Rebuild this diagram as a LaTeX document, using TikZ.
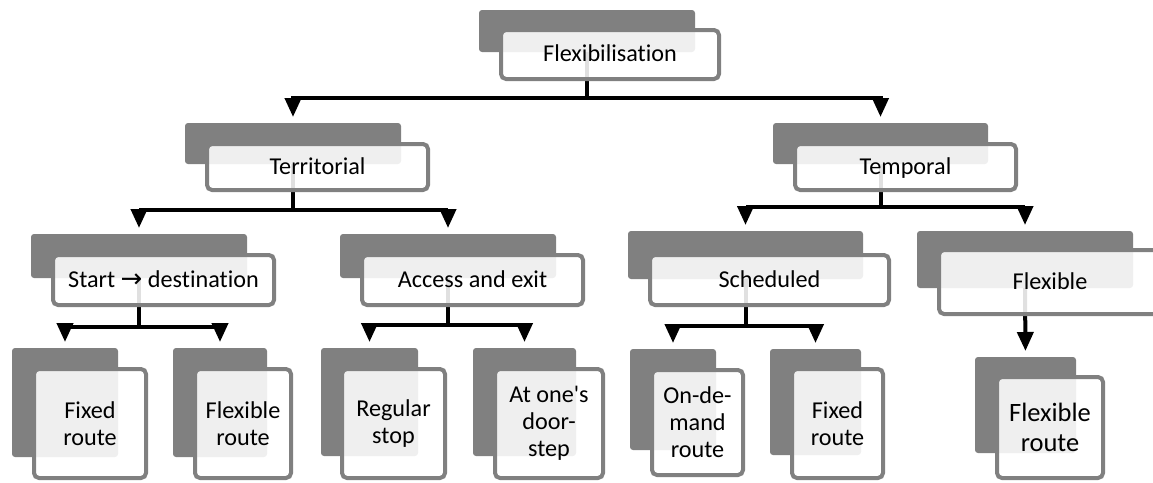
\documentclass[tikz,border=0pt]{standalone}
\usepackage{fontspec}
\setmainfont{Carlito}[Ligatures={NoCommon}]
\newfontfamily\symfont{DejaVu Sans}
\usetikzlibrary{arrows.meta}
\pgfdeclarelayer{background}
\pgfsetlayers{background,main}
\definecolor{boxgray}{HTML}{808080}
\begin{document}
\begin{tikzpicture}[x=1pt,y=-1pt,
  back/.style={fill=boxgray, draw=none, rounded corners=3pt, inner sep=0pt, outer sep=0pt},
  front/.style={draw=boxgray, line width=4pt, fill=white, fill opacity=0.88, text opacity=1,
    rounded corners=5pt, inner sep=0pt, outer sep=0pt, align=center,
    font=\fontsize{24.2}{27}\selectfont},
  single/.style={text height=17pt, text depth=3pt},
  bigfront/.style={front, font=\fontsize{26.5}{29.5}\selectfont},
  conn/.style={line width=4pt, -{Triangle[width=16pt,length=19pt]}, shorten >=6pt}]
\useasboundingbox (0,0) rectangle (1153,482);

% Level 1
\node[back, minimum width=216pt, minimum height=42pt] (flexiB) at (587,31) {};
\node[front, single, minimum width=218pt, minimum height=49pt] (flexi) at (610,54.5) {Flexibilisation};

% Level 2
\node[back, minimum width=216pt, minimum height=41pt] (terrB) at (293,143.5) {};
\node[front, single, minimum width=221pt, minimum height=46pt] (terr) at (317.5,167) {Territorial};
\node[back, minimum width=215pt, minimum height=41pt] (tempB) at (880.5,143.5) {};
\node[front, single, minimum width=221pt, minimum height=46pt] (temp) at (905.5,167) {Temporal};

% Level 3
\node[back, minimum width=216pt, minimum height=44pt] (sdB) at (139,256) {};
\node[front, single, minimum width=221pt, minimum height=50pt] (sd) at (163.5,280) {Start {\symfont\fontsize{26}{26}\selectfont →} destination};
\node[back, minimum width=216pt, minimum height=44pt] (aeB) at (448,256) {};
\node[front, single, minimum width=221pt, minimum height=50pt] (ae) at (472.5,280) {Access and exit};
\node[back, minimum width=235pt, minimum height=48pt] (schB) at (745.5,255) {};
\node[front, single, minimum width=239pt, minimum height=50pt] (sch) at (769.5,280) {Scheduled};
\node[back, minimum width=216pt, minimum height=57pt] (flxB) at (1025,259.5) {};
\node[front, single, minimum width=222pt, minimum height=64pt] (flx) at (1050,282) {Flexible};

% Level 4
\node[back, minimum width=106pt, minimum height=109pt] (frlB) at (65,402.5) {};
\node[front, minimum width=112pt, minimum height=109pt] (frl) at (90,423.5) {Fixed\\route};
\node[back, minimum width=94pt, minimum height=109pt] (xrlB) at (220,402.5) {};
\node[front, minimum width=96pt, minimum height=109pt] (xrl) at (243,423.5) {Flexible\\route};
\node[back, minimum width=97pt, minimum height=108pt] (rsB) at (369.5,402) {};
\node[front, minimum width=103pt, minimum height=109pt] (rs) at (393.5,423.5) {Regular\\stop};
\node[back, minimum width=103pt, minimum height=108pt] (dsB) at (524.5,402) {};
\node[front, minimum width=108pt, minimum height=109pt] (ds) at (549,423.5) {At one\textquotesingle s\\door-\\step};
\node[back, minimum width=86pt, minimum height=101pt] (odB) at (673,399.5) {};
\node[front, minimum width=91pt, minimum height=105pt] (od) at (697.5,422.5) {On-de-\\mand\\route};
\node[back, minimum width=91pt, minimum height=106pt] (frrB) at (815.5,402) {};
\node[front, minimum width=91pt, minimum height=109pt] (frr) at (837.5,423.5) {Fixed\\route};
\node[back, minimum width=101pt, minimum height=96pt] (xrrB) at (1025.5,405) {};
\node[bigfront, minimum width=106pt, minimum height=101pt] (xrr) at (1050,427.5) {Flexible\\route};

\begin{pgfonlayer}{background}
\draw[conn] (flexiB.south) -- (flexiB.south |- 0,98) -| (terrB.north);
\draw[conn] (flexiB.south) -- (flexiB.south |- 0,98) -| (tempB.north);
\draw[conn] (terrB.south) -- (terrB.south |- 0,210) -| (sdB.north);
\draw[conn] (terrB.south) -- (terrB.south |- 0,210) -| (aeB.north);
\draw[conn] (tempB.south) -- (tempB.south |- 0,207) -| (schB.north);
\draw[conn] (tempB.south) -- (tempB.south |- 0,207) -| (flxB.north);
\draw[conn] (sdB.south) -- (sdB.south |- 0,327) -| (frlB.north);
\draw[conn] (sdB.south) -- (sdB.south |- 0,327) -| (xrlB.north);
\draw[conn] (aeB.south) -- (aeB.south |- 0,325) -| (rsB.north);
\draw[conn] (aeB.south) -- (aeB.south |- 0,325) -| (dsB.north);
\draw[conn] (schB.south) -- (schB.south |- 0,326) -| (odB.north);
\draw[conn] (schB.south) -- (schB.south |- 0,326) -| (frrB.north);
\draw[conn] (flxB.south) -- (xrrB.north);
\end{pgfonlayer}
\end{tikzpicture}
\end{document}
